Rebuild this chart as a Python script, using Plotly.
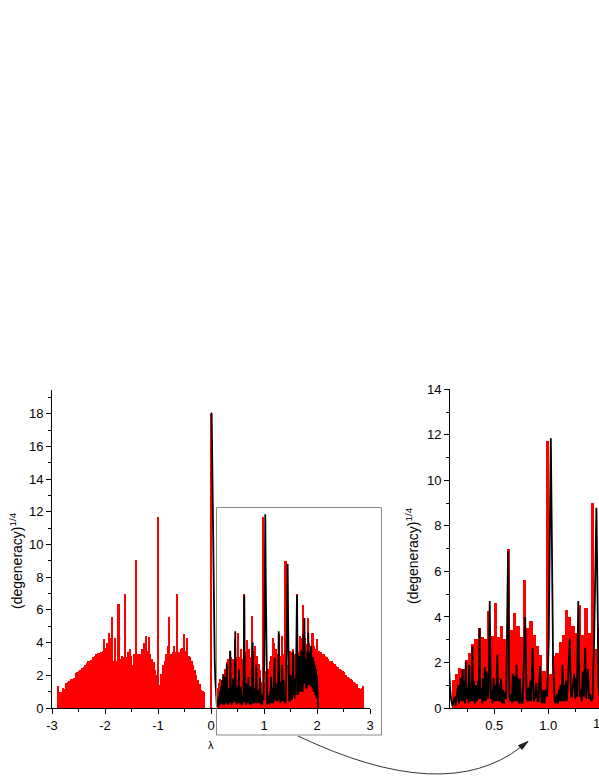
import plotly.graph_objects as go

# ---------------- data ----------------
BIN_WIDTH = 0.03  # histogram bin width (lambda units)

# red histogram, (degeneracy)^(1/4), negative side from -2.88 up to -0.03
hist_neg = [
    1.35, 1.0, 1.0, 1.2, 1.15, 1.5, 1.6, 1.65, 1.75, 1.8,
    1.85, 2.15, 2.2, 2.25, 2.35, 2.45, 2.5, 2.6, 2.75, 2.9,
    2.85, 2.95, 3.1, 3.2, 3.3, 3.35, 3.35, 3.4, 3.5, 4.2,
    3.7, 4.0, 4.6, 4.3, 5.55, 2.9, 4.3, 2.9, 6.35, 3.0,
    3.2, 3.1, 6.95, 3.1, 3.4, 3.6, 3.2, 2.6, 3.3, 9.05,
    3.3, 3.3, 3.3, 3.6, 4.0, 4.4, 3.5, 4.35, 3.3, 3.0,
    2.8, 2.3, 2.0, 11.7, 1.4, 2.1, 2.6, 2.9, 3.3, 3.8,
    5.55, 3.3, 3.4, 3.8, 3.4, 6.95, 3.4, 3.6, 3.7, 4.55,
    3.5, 4.3, 3.2, 3.1, 2.9, 2.6, 2.3, 2.0, 1.7, 1.45,
    1.1, 1.05, 1.0, 0, 0, 0,
]
hist_zero = 18.0
# positive side from 0.03 up to 2.88
hist_pos = [
    0, 0, 0, 1.2, 1.5, 1.75, 1.7, 2.1, 2.4, 2.8,
    3.0, 3.5, 3.1, 3.0, 4.25, 3.15, 4.6, 3.1, 3.6, 3.0,
    6.95, 3.4, 4.15, 3.6, 3.1, 5.6, 3.5, 3.8, 3.2, 2.7,
    2.3, 1.6, 11.7, 1.5, 2.25, 2.4, 2.9, 3.2, 4.3, 4.0,
    3.6, 3.3, 4.5, 3.2, 4.4, 3.3, 9.0, 2.6, 3.5, 3.5,
    3.4, 3.6, 3.3, 6.95, 3.4, 4.4, 4.3, 6.3, 4.3, 3.9,
    5.5, 4.0, 3.8, 4.6, 3.8, 3.6, 4.25, 3.5, 3.45, 3.3,
    3.3, 3.2, 3.1, 3.0, 2.9, 2.85, 2.75, 2.7, 2.55, 2.5,
    2.4, 2.35, 2.25, 2.2, 2.0, 1.9, 1.85, 1.75, 1.7, 1.6,
    1.55, 1.45, 1.2, 1.15, 1.25, 1.35,
]

# black broadened curve: vertices (lambda, value)
curve_x = [
    0.000, 0.012, 0.020, 0.030, 0.040, 0.050, 0.060, 0.070, 0.080, 0.090,
    0.100, 0.112, 0.125, 0.133, 0.142, 0.155, 0.165, 0.172, 0.180, 0.188,
    0.194, 0.200, 0.207, 0.213, 0.220, 0.228, 0.236, 0.244, 0.252, 0.260,
    0.268, 0.276, 0.284, 0.290, 0.297, 0.305, 0.312, 0.320, 0.330, 0.340,
    0.350, 0.356, 0.364, 0.372, 0.380, 0.388, 0.396, 0.404, 0.412, 0.420,
    0.430, 0.440, 0.448, 0.458, 0.468, 0.476, 0.484, 0.494, 0.502, 0.510,
    0.518, 0.528, 0.538, 0.546, 0.554, 0.562, 0.572, 0.580, 0.590, 0.600,
    0.610, 0.628, 0.640, 0.648, 0.656, 0.664, 0.672, 0.680, 0.690, 0.698,
    0.706, 0.714, 0.722, 0.730, 0.738, 0.748, 0.756, 0.764, 0.786, 0.800,
    0.810, 0.818, 0.826, 0.834, 0.842, 0.855, 0.866, 0.875, 0.890, 0.900,
    0.910, 0.925, 0.937, 0.945, 0.955, 0.965, 0.975, 0.990, 1.005, 1.015,
    1.024, 1.032, 1.045, 1.060, 1.070, 1.082, 1.090, 1.098, 1.106, 1.114,
    1.122, 1.132, 1.140, 1.148, 1.156, 1.164, 1.172, 1.185, 1.200, 1.210,
    1.220, 1.230, 1.240, 1.250, 1.258, 1.266, 1.278, 1.290, 1.300, 1.310,
    1.320, 1.330, 1.342, 1.352, 1.360, 1.368, 1.378, 1.388, 1.398, 1.410,
    1.425, 1.436, 1.446, 1.456, 1.466, 1.476, 1.486, 1.494, 1.502, 1.510,
    1.520, 1.530, 1.540, 1.550, 1.558, 1.568, 1.578, 1.590, 1.600, 1.610,
    1.622, 1.634, 1.642, 1.652, 1.660, 1.668, 1.676, 1.686, 1.694, 1.704,
    1.712, 1.722, 1.730, 1.742, 1.752, 1.762, 1.772, 1.782, 1.790, 1.800,
    1.808, 1.818, 1.826, 1.835, 1.845, 1.855, 1.862, 1.872, 1.880, 1.890,
    1.898, 1.908, 1.916, 1.925, 1.934, 1.944, 1.952, 1.962, 1.970, 1.980,
    1.990, 2.000, 2.010, 2.020,
]
curve_y = [
    18.05, 18.0, 16.0, 13.0, 9.5, 6.5, 4.5, 3.0, 1.8, 0.9,
    0.4, 0.1, 0.3, 0.5, 0.1, 0.6, 1.0, 0.2, 1.1, 1.3,
    0.3, 1.5, 1.7, 0.3, 1.2, 0.2, 2.05, 0.4, 0.9, 0.2,
    1.9, 0.3, 1.0, 0.3, 2.7, 0.3, 1.2, 0.2, 1.0, 0.3,
    1.2, 0.4, 3.5, 0.4, 0.9, 0.2, 1.3, 0.3, 1.8, 0.3,
    1.6, 0.4, 0.8, 4.7, 0.4, 0.8, 0.2, 1.3, 0.3, 1.0,
    0.3, 2.35, 0.3, 1.0, 0.3, 1.3, 0.2, 0.8, 0.2, 0.7,
    0.4, 6.9, 0.5, 0.3, 0.6, 0.2, 1.5, 0.3, 1.4, 0.3,
    1.9, 0.3, 1.3, 0.2, 1.3, 0.2, 0.6, 0.2, 4.0, 0.4,
    0.3, 0.9, 0.3, 1.2, 0.3, 2.65, 0.3, 0.4, 1.1, 0.3,
    0.3, 1.85, 0.3, 0.2, 0.8, 0.2, 0.8, 0.5, 3.0, 8.0,
    11.85, 8.0, 2.0, 0.3, 0.2, 0.6, 0.2, 0.8, 0.3, 1.0,
    0.3, 1.9, 0.3, 1.0, 0.3, 1.2, 0.3, 1.5, 3.05, 0.5,
    0.5, 1.0, 1.5, 0.4, 1.3, 0.5, 4.7, 0.5, 0.8, 0.3,
    1.6, 0.5, 2.65, 0.4, 1.0, 1.7, 0.4, 0.6, 0.3, 0.4,
    3.0, 7.0, 8.8, 5.0, 1.0, 0.4, 1.2, 0.4, 2.0, 0.5,
    1.3, 0.5, 2.0, 3.45, 0.8, 1.5, 0.6, 1.8, 0.8, 3.0,
    6.9, 3.0, 0.8, 2.2, 1.0, 3.2, 1.0, 2.5, 1.0, 3.5,
    1.2, 2.4, 1.0, 4.5, 1.5, 5.5, 1.5, 3.0, 1.2, 2.8,
    1.2, 3.5, 1.4, 4.6, 1.6, 3.2, 1.4, 3.4, 1.3, 3.8,
    1.4, 3.0, 1.2, 3.1, 1.0, 2.8, 1.0, 2.6, 0.8, 2.4,
    0.6, 2.0, 1.2, 0.0,
]

left_xticks = [-3, -2, -1, 0, 1, 2, 3]
left_xticktext = ["-3", "-2", "-1", "0", "1", "2", "3"]
left_yticks = [0, 2, 4, 6, 8, 10, 12, 14, 16, 18]
right_xticks = [0.5, 1.0]
right_xticktext = ["0.5", "1.0"]
right_yticks = [0, 2, 4, 6, 8, 10, 12, 14]

# bin centres
hist_x = ([round(-BIN_WIDTH * (len(hist_neg) - i), 2) for i in range(len(hist_neg))]
          + [0.0]
          + [round(BIN_WIDTH * (i + 1), 2) for i in range(len(hist_pos))])
hist_y = hist_neg + [hist_zero] + hist_pos

# ---------------- figure ----------------
W, H = 599, 776
FONT = "Liberation Sans, Arial, sans-serif"


def fx(p):
    return p / W


def fy(p):
    return 1 - p / H


fig = go.Figure()
for xa, ya in (("x", "y"), ("x2", "y2")):
    fig.add_trace(go.Bar(x=hist_x, y=hist_y, width=BIN_WIDTH,
                         marker=dict(color="#ff0000", line=dict(width=0)),
                         xaxis=xa, yaxis=ya, hoverinfo="skip"))
    fig.add_trace(go.Scatter(x=curve_x, y=curve_y, mode="lines",
                             line=dict(color="black", width=1.8),
                             xaxis=xa, yaxis=ya, hoverinfo="skip"))

axis_common = dict(showline=True, linecolor="black", linewidth=1,
                   ticks="outside", ticklen=5, tickwidth=1, tickcolor="black",
                   showgrid=False, zeroline=False, mirror=False,
                   tickfont=dict(family=FONT, size=13, color="black"))

fig.update_layout(
    width=W, height=H, template="none",
    margin=dict(l=0, r=0, t=0, b=0),
    paper_bgcolor="white", plot_bgcolor="white",
    showlegend=False, bargap=0,
    xaxis=dict(domain=[fx(52), fx(370)], range=[-3, 3],
               tickmode="array", tickvals=left_xticks, ticktext=left_xticktext,
               minor=dict(tickmode="array", tickvals=[-2.5, -1.5, -0.5, 0.5, 1.5, 2.5],
                          ticks="outside", ticklen=3, tickcolor="black"),
               anchor="y", **axis_common),
    yaxis=dict(domain=[fy(708), fy(390)], range=[0, 19.45],
               tickmode="array", tickvals=left_yticks,
               minor=dict(tickmode="array", tickvals=[1, 3, 5, 7, 9, 11, 13, 15, 17, 19],
                          ticks="outside", ticklen=3, tickcolor="black"),
               anchor="x", **axis_common),
    xaxis2=dict(domain=[fx(450), 1.0], range=[0.09, 1.47],
                tickmode="array", tickvals=right_xticks, ticktext=right_xticktext,
                minor=dict(tickmode="array", tickvals=[0.25, 0.75, 1.25],
                           ticks="outside", ticklen=3, tickcolor="black"),
                anchor="y2", **axis_common),
    yaxis2=dict(domain=[fy(708), fy(389.3)], range=[0, 14],
                tickmode="array", tickvals=right_yticks,
                minor=dict(tickmode="array", tickvals=[1, 3, 5, 7, 9, 11, 13],
                           ticks="outside", ticklen=3, tickcolor="black"),
                anchor="x2", **axis_common),
)

ytitle = "(degeneracy)<sup>1/4</sup>"
fig.add_annotation(x=fx(16), y=fy(561), xref="paper", yref="paper", text=ytitle,
                   textangle=-90, showarrow=False, xanchor="center", yanchor="middle",
                   font=dict(family=FONT, size=14, color="black"))
fig.add_annotation(x=fx(412), y=fy(556), xref="paper", yref="paper", text=ytitle,
                   textangle=-90, showarrow=False, xanchor="center", yanchor="middle",
                   font=dict(family=FONT, size=14, color="black"))
fig.add_annotation(x=fx(211), y=fy(745), xref="paper", yref="paper", text="λ",
                   showarrow=False, xanchor="center", yanchor="middle",
                   font=dict(family=FONT, size=11, color="black"))
# partially visible 1.5 tick label at the right edge (x=1.5 lies just past the page)
fig.add_annotation(x=fx(602), y=fy(723), xref="paper", yref="paper", text="1.5",
                   showarrow=False, xanchor="center", yanchor="middle",
                   font=dict(family=FONT, size=13, color="black"))

# zoom box
fig.add_shape(type="rect", xref="paper", yref="paper",
              x0=fx(216.5), x1=fx(381.5), y0=fy(735), y1=fy(507.5),
              line=dict(color="#8a8a8a", width=1), fillcolor="rgba(0,0,0,0)")

# curved arrow with a small filled head
p0, pc, p1 = (298, 736), (445, 806), (521, 747)
path = "M {} {} Q {} {} {} {}".format(fx(p0[0]), fy(p0[1]), fx(pc[0]), fy(pc[1]),
                                      fx(p1[0]), fy(p1[1]))
fig.add_shape(type="path", xref="paper", yref="paper", path=path,
              line=dict(color="#333333", width=1))
head = [(528, 741.5), (518.5, 745.5), (522, 749.5)]
head_path = "M {} {} L {} {} L {} {} Z".format(
    fx(head[0][0]), fy(head[0][1]), fx(head[1][0]), fy(head[1][1]),
    fx(head[2][0]), fy(head[2][1]))
fig.add_shape(type="path", xref="paper", yref="paper", path=head_path,
              line=dict(color="#222222", width=1), fillcolor="#222222")

fig.write_html("out.html",
               config={"displayModeBar": False},
               post_script="document.body.style.margin='0';"
                           "document.documentElement.style.margin='0';")
